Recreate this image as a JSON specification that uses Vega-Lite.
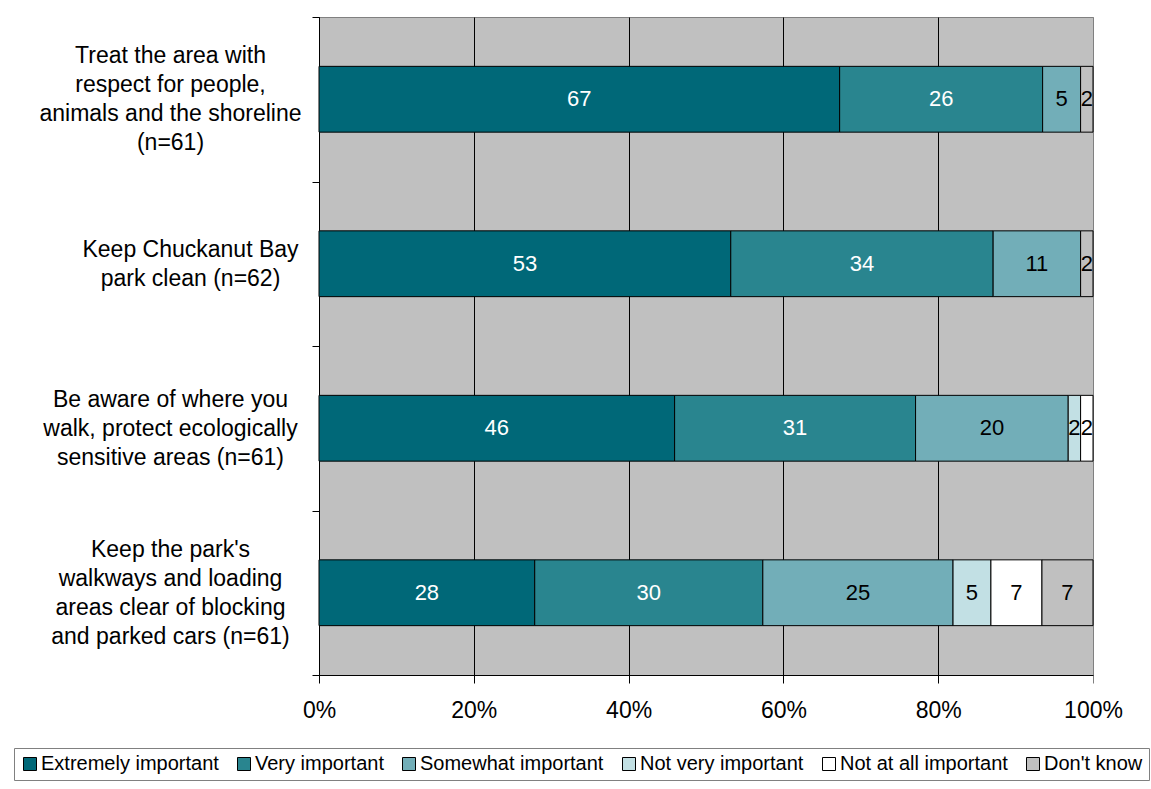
{
  "$schema": "https://vega.github.io/schema/vega-lite/v6.json",
  "width": 774,
  "height": 658,
  "autosize": {"type": "none"},
  "padding": {"left": 319, "top": 17, "right": 58, "bottom": 114},
  "background": "white",
  "config": {
    "font": "Liberation Sans",
    "view": {"stroke": "#808080", "fill": "#C0C0C0", "strokeWidth": 1}
  },
  "data": {
    "values": [
      {"q": "Treat the area with|respect for people,|animals and the shoreline|(n=61)", "cat": "Extremely important", "pct": 67.2},
      {"q": "Treat the area with|respect for people,|animals and the shoreline|(n=61)", "cat": "Very important", "pct": 26.2},
      {"q": "Treat the area with|respect for people,|animals and the shoreline|(n=61)", "cat": "Somewhat important", "pct": 4.9},
      {"q": "Treat the area with|respect for people,|animals and the shoreline|(n=61)", "cat": "Don't know", "pct": 1.6},
      {"q": "Keep Chuckanut Bay|park clean (n=62)", "cat": "Extremely important", "pct": 53.2},
      {"q": "Keep Chuckanut Bay|park clean (n=62)", "cat": "Very important", "pct": 33.9},
      {"q": "Keep Chuckanut Bay|park clean (n=62)", "cat": "Somewhat important", "pct": 11.3},
      {"q": "Keep Chuckanut Bay|park clean (n=62)", "cat": "Don't know", "pct": 1.6},
      {"q": "Be aware of where you|walk, protect ecologically|sensitive areas (n=61)", "cat": "Extremely important", "pct": 45.9},
      {"q": "Be aware of where you|walk, protect ecologically|sensitive areas (n=61)", "cat": "Very important", "pct": 31.1},
      {"q": "Be aware of where you|walk, protect ecologically|sensitive areas (n=61)", "cat": "Somewhat important", "pct": 19.7},
      {"q": "Be aware of where you|walk, protect ecologically|sensitive areas (n=61)", "cat": "Not very important", "pct": 1.6},
      {"q": "Be aware of where you|walk, protect ecologically|sensitive areas (n=61)", "cat": "Not at all important", "pct": 1.6},
      {"q": "Keep the park's|walkways and loading|areas clear of blocking|and parked cars (n=61)", "cat": "Extremely important", "pct": 27.9},
      {"q": "Keep the park's|walkways and loading|areas clear of blocking|and parked cars (n=61)", "cat": "Very important", "pct": 29.5},
      {"q": "Keep the park's|walkways and loading|areas clear of blocking|and parked cars (n=61)", "cat": "Somewhat important", "pct": 24.6},
      {"q": "Keep the park's|walkways and loading|areas clear of blocking|and parked cars (n=61)", "cat": "Not very important", "pct": 4.9},
      {"q": "Keep the park's|walkways and loading|areas clear of blocking|and parked cars (n=61)", "cat": "Not at all important", "pct": 6.6},
      {"q": "Keep the park's|walkways and loading|areas clear of blocking|and parked cars (n=61)", "cat": "Don't know", "pct": 6.6}
    ]
  },
  "transform": [
    {"calculate": "indexof(['Extremely important','Very important','Somewhat important','Not very important','Not at all important',\"Don't know\"], datum.cat)", "as": "ord"},
    {"stack": "pct", "groupby": ["q"], "sort": [{"field": "ord"}], "offset": "normalize", "as": ["x0", "x1"]},
    {"calculate": "(datum.x0 + datum.x1) / 2", "as": "xm"}
  ],
  "encoding": {
    "y": {
      "field": "q",
      "type": "nominal",
      "sort": null,
      "scale": {"paddingInner": 0, "paddingOuter": 0},
      "axis": {
        "title": null,
        "labelExpr": "isString(datum.value) ? split(datum.value, '|') : ''",
        "labelAlign": "center",
        "labelBaseline": "middle",
        "labelFontSize": 23,
        "labelLineHeight": 29,
        "labelColor": "black",
        "labelLimit": 0,
        "labelPadding": 142,
        "tickBand": "extent",
        "tickSize": 7,
        "tickColor": "black",
        "domainColor": "black",
        "grid": false,
        "encoding": {
          "labels": {
            "dy": {
              "condition": [
                {"test": "isString(datum.value) && length(split(datum.value, '|')) == 4", "value": -43.5},
                {"test": "isString(datum.value) && length(split(datum.value, '|')) == 3", "value": -29},
                {"test": "isString(datum.value) && length(split(datum.value, '|')) == 2", "value": -14.5}
              ],
              "value": 0
            },
            "dx": {
              "condition": {"test": "isString(datum.value) && indexof(datum.value, 'Chuckanut') >= 0", "value": 20},
              "value": 0
            }
          }
        }
      }
    }
  },
  "layer": [
    {
      "mark": {"type": "bar", "stroke": "black", "strokeWidth": 1, "height": {"band": 0.4}},
      "encoding": {
        "x": {
          "field": "x0",
          "type": "quantitative",
          "scale": {"domain": [0, 1], "nice": false},
          "axis": {
            "title": null,
            "values": [0, 0.2, 0.4, 0.6, 0.8, 1],
            "format": ".0%",
            "labelFontSize": 23,
            "labelColor": "black",
            "labelPadding": 16,
            "labelFlush": false,
            "labelOverlap": false,
            "tickSize": 8,
            "tickColor": {"condition": {"test": "datum.value == 1", "value": "#808080"}, "value": "black"},
            "domainColor": "black",
            "grid": true,
            "gridColor": {"condition": {"test": "datum.value == 1", "value": "#808080"}, "value": "black"},
            "gridOpacity": 1,
            "gridWidth": 1
          }
        },
        "x2": {"field": "x1"},
        "color": {
          "field": "cat",
          "type": "nominal",
          "scale": {
            "domain": ["Extremely important", "Very important", "Somewhat important", "Not very important", "Not at all important", "Don't know"],
            "range": ["#006878", "#29858F", "#72AEB8", "#C2E0E4", "#FFFFFF", "#C0C0C0"]
          },
          "legend": {
            "title": null,
            "orient": "none",
            "legendX": -305,
            "legendY": 731,
            "direction": "horizontal",
            "symbolType": "square",
            "symbolSize": 169,
            "symbolStrokeColor": "black",
            "symbolStrokeWidth": 1,
            "labelFontSize": 20,
            "labelColor": "black",
            "labelOffset": 1,
            "columnPadding": 15,
            "labelLimit": 0,
            "strokeColor": "#808080",
            "padding": 6
          }
        }
      }
    },
    {
      "mark": {"type": "text", "fontSize": 22, "baseline": "middle", "align": "center"},
      "encoding": {
        "x": {"field": "xm", "type": "quantitative"},
        "text": {"field": "pct", "type": "quantitative", "format": ".0f"},
        "color": {"condition": {"test": "datum.ord < 2", "value": "white"}, "value": "black"}
      }
    }
  ]
}
